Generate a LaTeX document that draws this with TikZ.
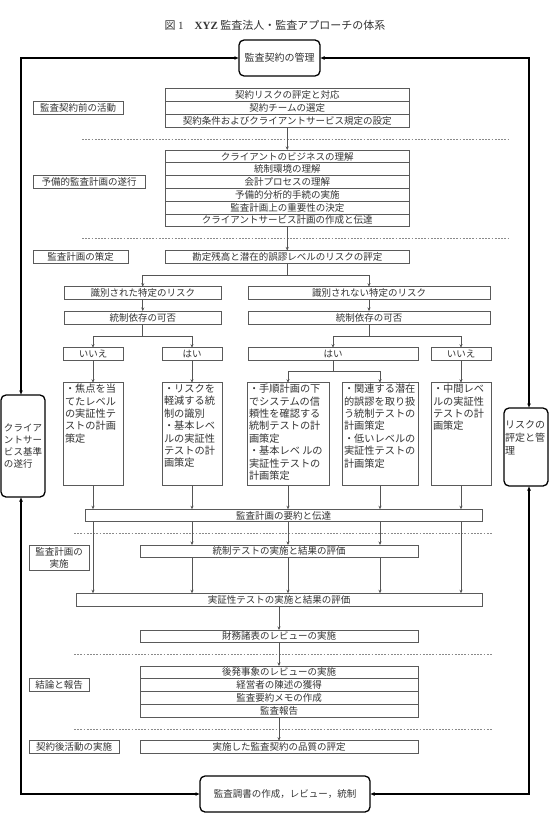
\documentclass[tikz,border=0pt]{standalone}
\usepackage{fontspec}
\setmainfont{Noto Sans CJK JP}
\newfontfamily\serifb{Liberation Serif}
\usetikzlibrary{arrows.meta}
\definecolor{bx}{HTML}{5A5A5A}
\definecolor{tx}{HTML}{333333}
\definecolor{cn}{HTML}{555555}
\definecolor{ds}{HTML}{8A8A8A}
\newcommand\fs{\fontsize{9.5}{11.5}\selectfont}
\newcommand\Bx[7][]{\node[box,minimum width={(#5-#3)*1pt},minimum height={(#6-#4)*1pt},#1] (#2) at ({(#3+#5)/2},{(#4+#6)/2}) {#7};}
\newcommand\tallt[2]{\parbox[c][100pt][t]{#1}{\fontsize{10.2}{12.4}\selectfont #2}}
\begin{document}
\begin{tikzpicture}[x=1pt,y=-1pt,
  box/.style={draw=bx,line width=0.6pt,inner sep=0pt,outer sep=0pt,text=tx,font=\fs},
  tallbox/.style={inner xsep=2pt,inner ysep=1.5pt},
  rbox/.style={draw=black,line width=1.3pt,rounded corners=5pt},
  conn/.style={draw=cn,line width=0.6pt,-{Stealth[length=3.5pt,width=3pt]}},
  cline/.style={draw=cn,line width=0.6pt},
  loopl/.style={draw=black,line width=1.5pt,{Latex[length=4.5pt,width=4pt]}-{Latex[length=4.5pt,width=4pt]}},
  dline/.style={draw=ds,line width=0.6pt,dash pattern=on 1.8pt off 1.4pt}]
\fill[white] (0,0) rectangle (549,818);
\useasboundingbox (0,0) rectangle (549,818);

% title
\node[text=tx,font=\fontsize{11}{13}\selectfont] (title) at (275,25) {図 {\serifb 1}\quad{\serifb\bfseries XYZ} 監査法人・監査アプローチの体系};

% loop boxes
\Bx[rbox,font=\fontsize{10}{12}\selectfont]{T}{239}{40}{320}{76}{監査契約の管理}
\Bx[rbox]{B}{200}{776}{370}{812}{監査調書の作成，レビュー，統制}
\Bx[rbox,align=left,font=\fontsize{9.5}{12.2}\selectfont]{L}{1}{395}{45}{497}{クライア\\ントサー\\ビス基準\\の遂行}
\Bx[rbox]{R}{504}{408}{548}{486}{\parbox[c][78pt][t]{42pt}{\fontsize{10}{13}\selectfont\vspace*{12pt}リスクの\\評定と管\\理}}

% stage 1
\Bx{S1a}{165.5}{88}{409}{101.5}{契約リスクの評定と対応}
\Bx{S1b}{165.5}{101.5}{409}{114.5}{契約チームの選定}
\Bx{S1c}{165.5}{114.5}{409}{127.5}{契約条件およびクライアントサービス規定の設定}
\Bx{LA}{33}{101.5}{123}{114.5}{監査契約前の活動}

% stage 2
\Bx{S2a}{165.5}{150}{409}{162.8}{クライアントのビジネスの理解}
\Bx{S2b}{165.5}{162.8}{409}{175.6}{統制環境の理解}
\Bx{S2c}{165.5}{175.6}{409}{188.4}{会計プロセスの理解}
\Bx{S2d}{165.5}{188.4}{409}{201.2}{予備的分析的手続の実施}
\Bx{S2e}{165.5}{201.2}{409}{214}{監査計画上の重要性の決定}
\Bx{S2f}{165.5}{214}{409}{226.8}{クライアントサービス計画の作成と伝達}
\Bx{LB}{33}{175.6}{145}{188.4}{予備的監査計画の遂行}

% stage 3
\Bx{RK}{165.5}{250.5}{409}{263.5}{勘定残高と潜在的誤謬レベルのリスクの評定}
\Bx{LC}{33}{250.5}{128}{263.5}{監査計画の策定}
\Bx{IdL}{64}{286.7}{221.5}{299.3}{識別された特定のリスク}
\Bx{IdR}{248}{286.7}{490}{299.3}{識別されない特定のリスク}
\Bx{CdL}{64}{311}{221.5}{324}{統制依存の可否}
\Bx{CdR}{248}{311}{490}{324}{統制依存の可否}
\Bx{NoL}{63}{347.7}{123}{360}{いいえ}
\Bx{YesL}{162}{347.7}{222}{360}{はい}
\Bx{YesR}{248}{347.7}{418}{360}{はい}
\Bx{NoR}{431}{347.7}{491}{360}{いいえ}
\Bx[tallbox]{T1}{63}{382.7}{123}{485.7}{\tallt{56pt}{・焦点を当\\てたレベル\\の実証性テ\\ストの計画\\策定}}
\Bx[tallbox]{T2}{162}{382.7}{222}{485.7}{\tallt{56pt}{・リスクを\\軽減する統\\制の識別\\・基本レベ\\ルの実証性\\テストの計\\画策定}}
\Bx[tallbox]{T3}{247}{382.7}{329}{485.7}{\tallt{78pt}{・手順計画の下\\でシステムの信\\頼性を確認する\\統制テストの計\\画策定\\・基本レベ ルの\\実証性テストの\\計画策定}}
\Bx[tallbox]{T4}{342}{382.7}{418}{485.7}{\tallt{72pt}{・関連する潜在\\的誤謬を取り扱\\う統制テストの\\計画策定\\・低いレベルの\\実証性テストの\\計画策定}}
\Bx[tallbox]{T5}{431}{382.7}{491}{485.7}{\tallt{56pt}{・中間レベ\\ルの実証性\\テストの計\\画策定}}

% stage 4
\Bx{SM}{85}{509.3}{482}{521.7}{監査計画の要約と伝達}
\Bx{CT}{140}{545}{418}{557.7}{統制テストの実施と結果の評価}
\Bx[align=center,font=\fontsize{9.5}{12}\selectfont]{LD}{29}{545}{89}{570.7}{監査計画の\\実施}
\Bx{ST}{76}{593.3}{482}{606.7}{実証性テストの実施と結果の評価}
\Bx{FS}{140}{630}{418}{642.7}{財務諸表のレビューの実施}

% stage 5
\Bx{K1}{140}{666}{418}{678.75}{後発事象のレビューの実施}
\Bx{K2}{140}{678.75}{418}{691.5}{経営者の陳述の獲得}
\Bx{K3}{140}{691.5}{418}{704.25}{監査要約メモの作成}
\Bx{K4}{140}{704.25}{418}{717}{監査報告}
\Bx{LE}{29}{678.75}{89}{691.5}{結論と報告}

% stage 6
\Bx{EV}{140}{740.7}{418}{753.3}{実施した監査契約の品質の評定}
\Bx{LF}{29}{740.7}{119}{753.3}{契約後活動の実施}

% dashed separators
\draw[dline] (82,139) -- (509,139);
\draw[dline] (82,238.3) -- (509,238.3);
\draw[dline] (74,533.3) -- (492,533.3);
\draw[dline] (74,654.3) -- (492,654.3);
\draw[dline] (74,729) -- (492,729);

% outer loop
\draw[loopl] ([xshift=-2pt]L.north) |- (T.west);
\draw[loopl] ([xshift=3pt]R.north) |- (T.east);
\draw[loopl] ([xshift=-2pt]L.south) |- (B.west);
\draw[loopl] ([xshift=3pt]R.south) |- (B.east);

% connectors
\draw[conn] (S1c.south) -- (S2a.north);
\draw[conn] (S2f.south) -- (RK.north);
\draw[cline] (RK.south) -- ++(0,11.5) coordinate (j1);
\draw[conn] (j1) -| (IdL.north);
\draw[conn] (j1) -| (IdR.north);
\draw[conn] (IdL.south) -- (CdL.north);
\draw[conn] (IdR.south) -- (CdR.north);
\draw[cline] (CdL.south) -- ++(0,12) coordinate (j2);
\draw[conn] (j2) -| (NoL.north);
\draw[conn] (j2) -| (YesL.north);
\draw[cline] (CdR.south) -- ++(0,12) coordinate (j3);
\draw[conn] (j3) -| (YesR.north);
\draw[conn] (j3) -| (NoR.north);
\draw[conn] (NoL.south) -- (T1.north);
\draw[conn] (YesL.south) -- (T2.north);
\draw[conn] (NoR.south) -- (T5.north);
\draw[cline] (YesR.south) -- ++(0,11.7) coordinate (j4);
\draw[conn] (j4) -| (T3.north);
\draw[conn] (j4) -| (T4.north);
\foreach \t in {T1,T2,T3,T4,T5}{\draw[conn] (\t.south) -- (\t.south |- SM.north);}
\foreach \t in {T2,T3,T4}{
  \draw[conn] (SM.south -| \t.south) -- (CT.north -| \t.south);
  \draw[conn] (CT.south -| \t.south) -- (ST.north -| \t.south);}
\foreach \t in {T1,T5}{\draw[conn] (SM.south -| \t.south) -- (ST.north -| \t.south);}
\draw[conn] (ST.south -| FS.north) -- (FS.north);
\draw[conn] (FS.south) -- (K1.north);
\draw[conn] (K4.south) -- (EV.north);
\end{tikzpicture}
\end{document}
